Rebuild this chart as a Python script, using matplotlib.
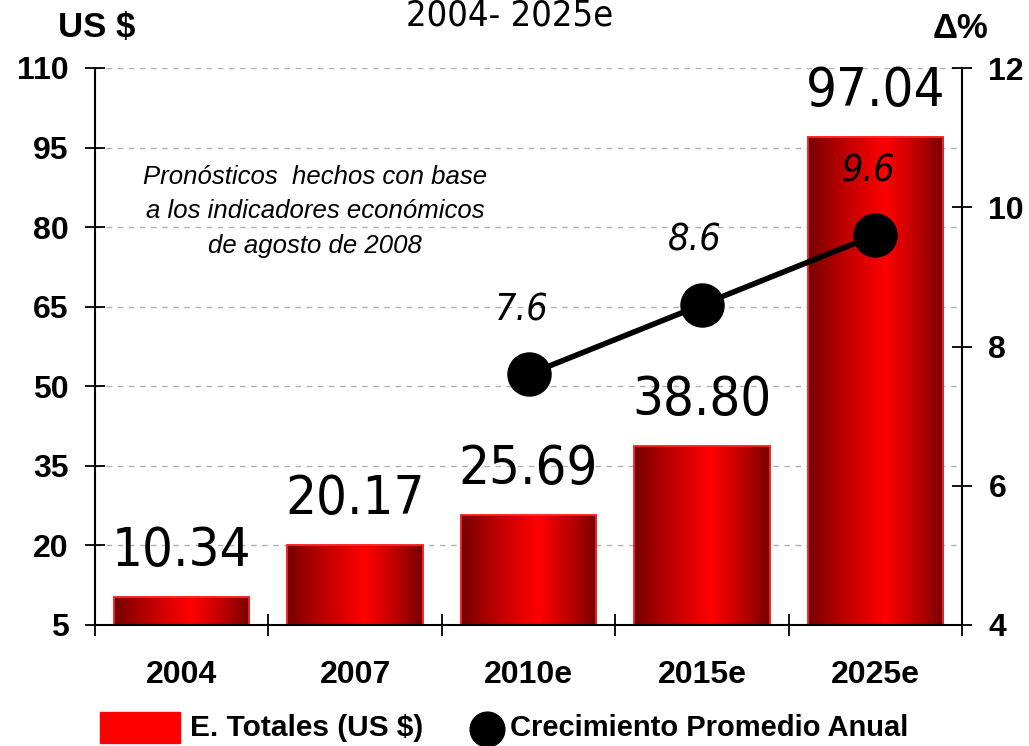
import numpy as np
import matplotlib
matplotlib.use("Agg")
import matplotlib.pyplot as plt
from matplotlib import font_manager as fm
from matplotlib.lines import Line2D
from matplotlib.patches import Rectangle

categories = ["2004", "2007", "2010e", "2015e", "2025e"]
totals = [10.34, 20.17, 25.69, 38.80, 97.04]
growth_idx = [2, 3, 4]
growth = [7.6, 8.6, 9.6]
left_ticks = [5, 20, 35, 50, 65, 80, 95, 110]
right_ticks = [4, 6, 8, 10, 12]

# look for a condensed face
cond = []
for f in fm.fontManager.ttflist:
    st = str(f.stretch).lower()
    if ("narrow" in f.name.lower() or "condensed" in f.name.lower()
            or st in ("condensed", "semi-condensed", "extra-condensed", "ultra-condensed")):
        cond.append(f)
cond_reg = [f for f in cond if f.style == "normal" and f.weight in (400, "normal", "regular")]
cond_it = [f for f in cond if f.style in ("italic", "oblique") and f.weight in (400, "normal", "regular")]
have_cond = len(cond_reg) > 0
base = "Liberation Sans"
if have_cond:
    val_fp = fm.FontProperties(fname=cond_reg[0].fname, size=39)
    title_fp = fm.FontProperties(fname=cond_reg[0].fname, size=26)
else:
    val_fp = fm.FontProperties(family=base, size=36)
    title_fp = fm.FontProperties(family=base, size=25)
if cond_it:
    it_fp = fm.FontProperties(fname=cond_it[0].fname, size=27)
else:
    it_fp = fm.FontProperties(family=base, style="italic", size=25)

fig = plt.figure(figsize=(10.29, 7.46), dpi=100)
ax = fig.add_axes([95/1029, 1-625/746, (962-95)/1029, (625-68)/746])
ax2 = ax.twinx()

x = np.arange(len(categories))

bars = ax.bar(x, np.array(totals)-5, bottom=5, width=0.78, color="red",
              edgecolor="#ff2020", linewidth=1.2, zorder=2)

# horizontal gradient
t = np.linspace(0, 1, 256)
peak = 0.57
prof = np.where(t < peak, t/peak, (1-t)/(1-peak))
r = 0.43 + 0.57*np.clip(prof, 0, 1)**0.8
grad = np.zeros((1, 256, 4))
grad[..., 0] = r
grad[..., 3] = 1
for b in bars:
    x0, y0 = b.get_x(), b.get_y()
    w, h = b.get_width(), b.get_height()
    im = ax.imshow(grad, extent=[x0, x0+w, y0, y0+h], aspect="auto",
                   zorder=2.1, interpolation="bilinear")
    im.set_clip_path(b)
ax.set_xlim(-0.5, len(categories)-0.5)
ax.set_ylim(5, 110)
ax2.set_ylim(4, 12)
for b in bars:
    ax.add_patch(Rectangle((b.get_x(), b.get_y()), b.get_width(), b.get_height(),
                           fill=False, edgecolor="#ff2a2a", linewidth=1.2, zorder=2.2))

for xi, v in zip(x, totals):
    ax.text(xi, v+5.8, f"{v:.2f}", ha="center", va="baseline",
            fontproperties=val_fp, zorder=5)

ax.set_yticks(left_ticks)
ax.grid(axis="y", linestyle=(0, (4, 4)), color="#b0b0b0", linewidth=1.0, zorder=0)
ax.set_axisbelow(True)
ax.set_xticks(x)
ax.set_xticklabels(categories)
ax.set_xticks(np.arange(-0.5, len(categories)), minor=True)
ax.tick_params(axis="x", which="major", length=0, pad=25)
ax.tick_params(axis="x", which="minor", direction="inout", length=16, width=1.3)
ax.tick_params(axis="y", direction="inout", length=14, width=1.3, pad=12)
for lab in ax.get_xticklabels() + ax.get_yticklabels():
    lab.set_fontsize(23)
    lab.set_fontweight("bold")
    lab.set_family(base)

ax.spines["top"].set_visible(False)
ax2.spines["top"].set_visible(False)
ax.spines["right"].set_visible(False)
for s in ["left", "bottom"]:
    ax.spines[s].set_linewidth(1.5)
ax2.spines["right"].set_linewidth(1.5)
ax2.spines["left"].set_visible(False)
ax2.spines["bottom"].set_visible(False)

ax2.set_yticks(right_ticks)
ax2.tick_params(axis="y", direction="inout", length=14, width=1.3, pad=12)
for lab in ax2.get_yticklabels():
    lab.set_fontsize(23)
    lab.set_fontweight("bold")
    lab.set_family(base)

gx = [x[i] for i in growth_idx]
ax2.plot(gx, growth, color="black", linewidth=4, marker="o", markersize=31, zorder=6)
for xi, v in zip(gx, growth):
    ax2.text(xi-0.04, v+0.92, f"{v:.1f}", ha="center", va="center",
             fontproperties=it_fp, zorder=7)

ax.text(0.77, 83.0, "Pronósticos  hechos con base\na los indicadores económicos\nde agosto de 2008",
        ha="center", va="center", fontsize=18.5, style="italic", family=base,
        linespacing=1.55, zorder=5)

fig.text(97/1029, 1-28/746, "US $", ha="center", va="center", fontsize=25,
         fontweight="bold", family=base)
fig.text(960/1029, 1-28/746, "Δ%", ha="center", va="center", fontsize=25,
         fontweight="bold", family=base)
fig.text(510/1029, 1-25/746, "2004- 2025e", ha="center", va="baseline",
         fontproperties=title_fp)

# legend
fig.patches.append(Rectangle((100/1029, 1-743/746), 80/1029, 31/746, facecolor="red",
                             edgecolor="red", transform=fig.transFigure, figure=fig))
fig.text(190/1029, 1-728/746, "E. Totales (US $)", ha="left", va="center",
         fontsize=21.5, fontweight="bold", family=base)
fig.lines.append(Line2D([487/1029], [1-729/746], marker="o", color="black", markersize=25,
                        linestyle="none", transform=fig.transFigure, figure=fig))
fig.text(510/1029, 1-728/746, "Crecimiento Promedio Anual", ha="left", va="center",
         fontsize=21, fontweight="bold", family=base)

fig.savefig("out.png", dpi=100)
